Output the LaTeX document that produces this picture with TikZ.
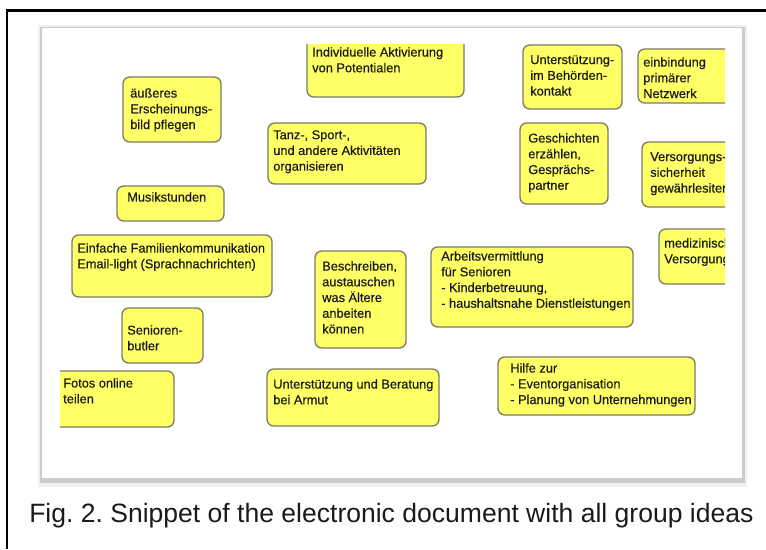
\documentclass[tikz,border=0pt]{standalone}
\usepackage{fontspec}
\setmainfont{Liberation Sans}
\newfontfamily\notefont[FakeBold=0.4]{Liberation Sans}
\frenchspacing
\definecolor{noteyellow}{HTML}{FFFF66}
\definecolor{noteedge}{HTML}{7A7A66}
\definecolor{inkgray}{HTML}{1A1A1A}

\begin{document}
\begin{tikzpicture}[x=0.75pt, y=-0.75pt,
    note/.style={fill=noteyellow, draw=noteedge, line width=1pt, rounded corners=5pt},
    notetext/.style={anchor=north west, inner sep=0pt, align=left, text=inkgray,
        font=\notefont\fontsize{9.6}{11.8}\selectfont}]
    \useasboundingbox (0,0) rectangle (766,549);

    % Outer frame (top and left edge only)
    \draw[line width=1.7pt] (766,10.5) -- (7.2,10.5) -- (7.2,549);

    % Screenshot panel with its drop shadow
    \fill[gray!12] (38,25) rectangle (747,487);
    \fill[gray!40] (40,27) rectangle (745,483);
    \fill[white] (42,28) rectangle (742,478);

    \begin{scope}
    \clip (60,45) rectangle (725,470);

    % Top row
    \draw[note] (307,35) rectangle (464,97);
    \node[notetext] (potential) at (312,47) {Individuelle Aktivierung\\von Potentialen};

    \draw[note] (123,77) rectangle (221,142);
    \node[notetext] (looks) at (130,88) {äußeres\\Erscheinungs-\\bild pflegen};

    \draw[note] (523,45) rectangle (622,109);
    \node[notetext] (office) at (530,55) {Unterstützung-\\im Behörden-\\kontakt};

    \draw[note] (638,49) rectangle (740,103);
    \node[notetext] (network) at (643,57) {einbindung\\primärer\\Netzwerk};

    % Second row
    \draw[note] (268,123) rectangle (426,184);
    \node[notetext] (dance) at (273,130) {Tanz-, Sport-,\\und andere Aktivitäten\\organisieren};

    \draw[note] (520,123) rectangle (608,204);
    \node[notetext] (stories) at (528,133) {Geschichten\\erzählen,\\Gesprächs-\\partner};

    \draw[note] (642,142) rectangle (740,207);
    \node[notetext] (supply) at (650,152) {Versorgungs-\\sicherheit\\gewährlesiten};

    \draw[note] (117,186) rectangle (224,221);
    \node[notetext] (music) at (127,192) {Musikstunden};

    % Middle row
    \draw[note] (72,235) rectangle (272,297);
    \node[notetext] (family) at (77,243) {Einfache Familienkommunikation\\Email-light (Sprachnachrichten)};

    \draw[note] (315,251) rectangle (406,348);
    \node[notetext] (skills) at (322,261) {Beschreiben,\\austauschen\\was Ältere\\anbeiten\\können};

    \draw[note] (431,247) rectangle (633,327);
    \node[notetext] (jobs) at (441,251) {Arbeitsvermittlung\\für Senioren\\- Kinderbetreuung,\\- haushaltsnahe Dienstleistungen};

    \draw[note] (659,229) rectangle (740,284);
    \node[notetext] (medical) at (664,238) {medizinische\\Versorgung};

    \draw[note] (122,308) rectangle (203,363);
    \node[notetext] (butler) at (127,325) {Senioren-\\butler};

    % Bottom row
    \draw[note] (50,371) rectangle (174,427);
    \node[notetext] (photos) at (63,378) {Fotos online\\teilen};

    \draw[note] (267,369) rectangle (439,426);
    \node[notetext] (poverty) at (273,379) {Unterstützung und Beratung\\bei Armut};

    \draw[note] (498,357) rectangle (695,415);
    \node[notetext] (events) at (510,363) {Hilfe zur\\- Eventorganisation\\- Planung von Unternehmungen};
    \end{scope}

    % Caption
    \node[anchor=base west, inner sep=0pt, text=inkgray, font=\fontsize{19.9}{24}\selectfont]
        (caption) at (29,522) {Fig. 2. Snippet of the electronic document with all group ideas};
\end{tikzpicture}
\end{document}
